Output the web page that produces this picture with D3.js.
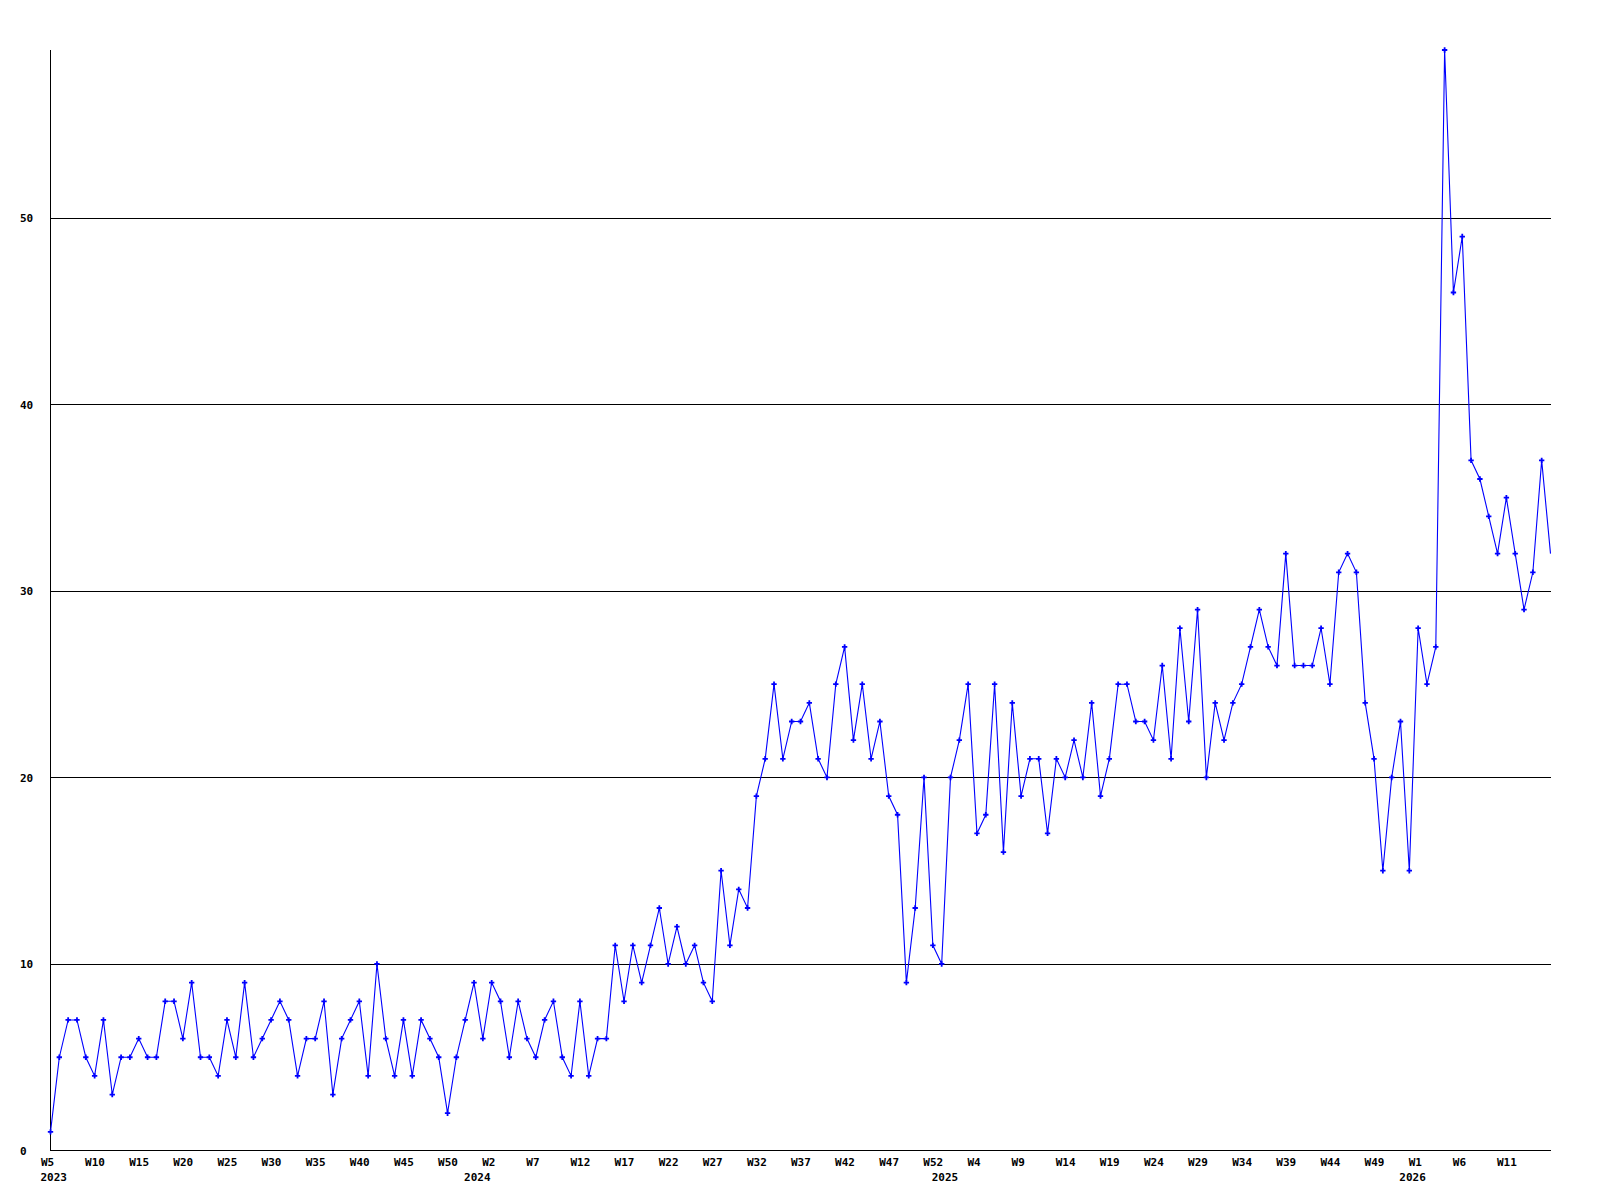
<!DOCTYPE html>
<html>
<head>
<meta charset="utf-8">
<script src="https://cdn.jsdelivr.net/npm/d3@7"></script>
<style>
  html, body { margin: 0; padding: 0; background: #ffffff; }
  svg { display: block; }
  text { font-family: "DejaVu Sans Mono", "Liberation Mono", monospace; font-weight: bold; font-size: 11px; fill: #000; }
</style>
</head>
<body>
<svg id="chart" width="1600" height="1200"></svg>
<script>
// ---- data ----
// weekly segments: [year, first week, last week]
const yearSegments = [
  [2023, 5, 52],
  [2024, 0, 52],
  [2025, 0, 52],
  [2026, 0, 16]
];

const values = [
  1, 5, 7, 7, 5, 4, 7, 3, 5, 5, 6, 5, 5, 8, 8, 6, 9, 5, 5, 4,
  7, 5, 9, 5, 6, 7, 8, 7, 4, 6, 6, 8, 3, 6, 7, 8, 4, 10, 6, 4,
  7, 4, 7, 6, 5, 2, 5, 7, 9, 6, 9, 8, 5, 8, 6, 5, 7, 8, 5, 4,
  8, 4, 6, 6, 11, 8, 11, 9, 11, 13, 10, 12, 10, 11, 9, 8, 15, 11, 14, 13,
  19, 21, 25, 21, 23, 23, 24, 21, 20, 25, 27, 22, 25, 21, 23, 19, 18, 9, 13, 20,
  11, 10, 20, 22, 25, 17, 18, 25, 16, 24, 19, 21, 21, 17, 21, 20, 22, 20, 24, 19,
  21, 25, 25, 23, 23, 22, 26, 21, 28, 23, 29, 20, 24, 22, 24, 25, 27, 29, 27, 26,
  32, 26, 26, 26, 28, 25, 31, 32, 31, 24, 21, 15, 20, 23, 15, 28, 25, 27, 59, 46,
  49, 37, 36, 34, 32, 35, 32, 29, 31, 37, 32
];

const xTickLabels = [
  "W5","W10","W15","W20","W25","W30","W35","W40","W45","W50",
  "W2","W7","W12","W17","W22","W27","W32","W37","W42","W47","W52",
  "W4","W9","W14","W19","W24","W29","W34","W39","W44","W49",
  "W1","W6","W11"
];
const xTickYears = [
  2023,2023,2023,2023,2023,2023,2023,2023,2023,2023,
  2024,2024,2024,2024,2024,2024,2024,2024,2024,2024,2024,
  2025,2025,2025,2025,2025,2025,2025,2025,2025,2025,
  2026,2026,2026
];
const yearLabels = ["2023", "2024", "2025", "2026"];
const yearStartWeeks = [5, 0, 0, 0];
const yTicks = [0, 10, 20, 30, 40, 50];
const yMax = 59;

// categories built from the segments
const categories = [];
yearSegments.forEach(([yr, a, b]) => { for (let w = a; w <= b; w++) categories.push(yr + "-W" + w); });
const data = categories.map((c, i) => ({ cat: c, v: values[i] }));

// ---- layout ----
const plotLeft = 50.5, plotRight = 1550.5, plotTop = 50, plotBottom = 1150.5;
const svg = d3.select("#chart");

const x = d3.scalePoint().domain(categories).range([plotLeft, plotRight]);
const y = d3.scaleLinear().domain([0, yMax]).range([plotBottom, plotTop]);

// gridlines
svg.append("g")
  .selectAll("line")
  .data(yTicks.filter(d => d > 0))
  .join("line")
  .attr("x1", plotLeft).attr("x2", plotRight)
  .attr("y1", d => Math.round(y(d)) + 0.5).attr("y2", d => Math.round(y(d)) + 0.5)
  .attr("stroke", "#000").attr("stroke-width", 1)
  .attr("shape-rendering", "crispEdges");

// y axis
const yAxis = d3.axisLeft(y).tickValues(yTicks).tickSize(0).tickFormat(d3.format("d"));
const gy = svg.append("g").attr("transform", `translate(${plotLeft},0)`).call(yAxis);
gy.attr("font-family", null).attr("font-size", null);
gy.select(".domain").attr("stroke", "#000").attr("shape-rendering", "crispEdges")
  .attr("d", `M0,${plotTop}V${plotBottom}`);
gy.selectAll(".tick text")
  .attr("x", 20 - plotLeft).attr("text-anchor", "start").attr("dy", "0.35em")
  .attr("fill", "#000");

// x axis
const tickCats = xTickLabels.map((w, i) => xTickYears[i] + "-W" + w.slice(1));
const tickMap = new Map(tickCats.map((c, i) => [c, xTickLabels[i]]));
const xAxis = d3.axisBottom(x).tickValues(tickCats).tickSize(0).tickFormat(c => tickMap.get(c));
const gx = svg.append("g").attr("transform", `translate(0,${plotBottom})`).call(xAxis);
gx.attr("font-family", null).attr("font-size", null);
gx.select(".domain").attr("stroke", "#000").attr("shape-rendering", "crispEdges")
  .attr("d", `M${plotLeft},0H${plotRight}`);
gx.selectAll(".tick text")
  .attr("text-anchor", "start").attr("dx", -10).attr("y", 15).attr("dy", 0)
  .attr("fill", "#000");

// year labels
const yearCats = yearLabels.map((yl, i) => yl + "-W" + yearStartWeeks[i]);
svg.append("g")
  .selectAll("text")
  .data(yearCats)
  .join("text")
  .attr("x", d => x(d) - 10)
  .attr("y", plotBottom + 30)
  .attr("text-anchor", "start")
  .text((d, i) => yearLabels[i]);

// line
const line = d3.line().x(d => x(d.cat)).y(d => y(d.v));
svg.append("path")
  .datum(data)
  .attr("d", line)
  .attr("fill", "none")
  .attr("stroke", "#0000ff")
  .attr("stroke-width", 1.1);

// markers (the last point at the plot edge carries none in the reference)
svg.append("g")
  .selectAll("path")
  .data(data.slice(0, -1))
  .join("path")
  .attr("transform", d => `translate(${x(d.cat)},${y(d.v)})`)
  .attr("d", d3.symbol().type(d3.symbolCross).size(16))
  .attr("fill", "#0000ff");
</script>
</body>
</html>
